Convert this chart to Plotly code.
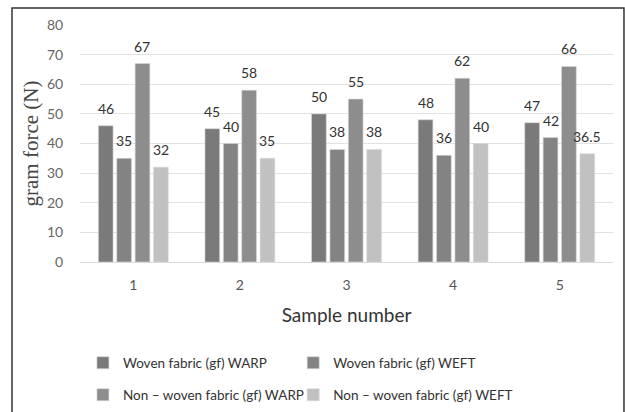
import plotly.graph_objects as go

categories = ["1", "2", "3", "4", "5"]
series_names = [
    "Woven fabric (gf) WARP",
    "Woven fabric (gf) WEFT",
    "Non \u2013 woven fabric (gf) WARP",
    "Non \u2013 woven fabric (gf) WEFT",
]
woven_warp = [46, 45, 50, 48, 47]
woven_weft = [35, 40, 38, 36, 42]
nonwoven_warp = [67, 58, 55, 62, 66]
nonwoven_weft = [32, 35, 38, 40, 36.5]
series_values = [woven_warp, woven_weft, nonwoven_warp, nonwoven_weft]
colors = ["#7a7a7a", "#838383", "#8d8d8d", "#c1c1c1"]
legend_ids = ["legend", "legend2", "legend3", "legend4"]
legend_pos = [(0.0055, -0.426), (0.4, -0.426), (0.0055, -0.561), (0.4, -0.561)]

W, H = 625, 412
ML, MR, MT, MB = 80, 12, 25, 150
BARGAP = 0.31
plot_w = W - ML - MR
slot = plot_w / len(categories)
n = len(series_names)

fig = go.Figure()
annotations = []
for i, (name, vals, col, lg) in enumerate(zip(series_names, series_values, colors, legend_ids)):
    fig.add_trace(go.Bar(
        x=categories, y=vals, name=name, legend=lg,
        marker=dict(color=col, line=dict(color="#d6d6d6", width=0.6)),
    ))
    xshift = (i - (n - 1) / 2) * slot * (1 - BARGAP) / n
    for j, v in enumerate(vals):
        annotations.append(dict(
            x=j, y=v, xref="x", yref="y", text="%g" % v, showarrow=False,
            xanchor="center", yanchor="bottom", xshift=xshift, yshift=7,
            font=dict(family="Lato", size=14, color="#333333"),
        ))

legend_common = dict(
    orientation="h", xanchor="left", yanchor="middle",
    font=dict(family="Lato", size=13.5, color="#333333"),
    itemwidth=30, bgcolor="rgba(0,0,0,0)",
)
legends = {}
for lg, (lx, ly) in zip(legend_ids, legend_pos):
    legends[lg] = dict(x=lx, y=ly, **legend_common)

fig.update_layout(
    width=W, height=H,
    margin=dict(l=ML, r=MR, t=MT, b=MB, autoexpand=False),
    paper_bgcolor="white", plot_bgcolor="white",
    barmode="group", bargap=BARGAP, bargroupgap=0.2,
    font=dict(family="Lato", color="#444444"),
    showlegend=True,
    annotations=annotations,
    xaxis=dict(
        type="category",
        showgrid=False, showline=True, linecolor="#d9d9d9", linewidth=1,
        ticks="outside", ticklen=10, tickcolor="rgba(0,0,0,0)",
        tickfont=dict(family="Lato", size=14, color="#555555"),
        title=dict(text="Sample number", font=dict(family="Lato", size=19, color="#333333"), standoff=16),
    ),
    yaxis=dict(
        range=[0, 80], dtick=10, showgrid=True, gridcolor="#e2e2e2", gridwidth=1,
        zeroline=False, ticks="outside", ticklen=13, tickcolor="rgba(0,0,0,0)",
        tickfont=dict(family="Lato", size=14, color="#666666"),
        title=dict(text="gram force (N)", font=dict(family="Liberation Serif", size=21, color="#444444"), standoff=2),
    ),
    shapes=[dict(
        type="rect", xref="paper", yref="paper",
        x0=-0.1276, x1=1.0206, y0=-0.7, y1=1.0717,
        line=dict(color="#333333", width=1.5), fillcolor="rgba(0,0,0,0)", layer="above",
    )],
)
fig.update_layout(**legends)

fig.write_html("out.html")
